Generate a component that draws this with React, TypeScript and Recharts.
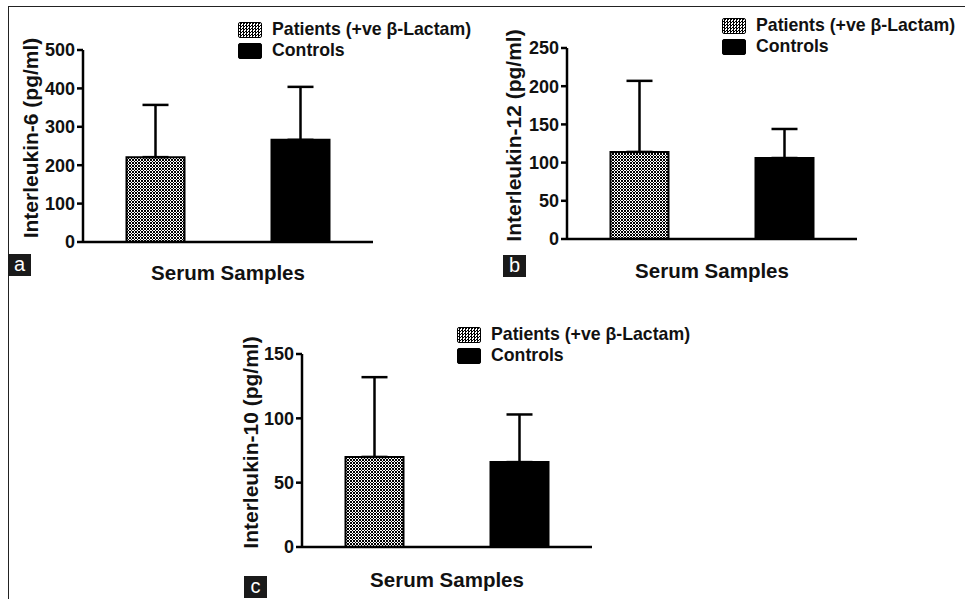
import React from "react";
import {
  BarChart,
  Bar,
  Cell,
  ErrorBar,
  XAxis,
  YAxis,
  Legend,
} from "recharts";

const groups = ["Patients (+ve β-Lactam)", "Controls"];

const il6Mean = [221, 266];
const il6Sd = [136, 138];
const il6Ticks = [0, 100, 200, 300, 400, 500];

const il12Mean = [114, 106];
const il12Sd = [93, 38];
const il12Ticks = [0, 50, 100, 150, 200, 250];

const il10Mean = [70, 66];
const il10Sd = [62, 37];
const il10Ticks = [0, 50, 100, 150];

const FONT = '"Liberation Sans", Arial, Helvetica, sans-serif';
const INK = "#111";

const checker =
  "repeating-conic-gradient(#000 0% 25%, #fff 0% 50%) 0 0 / 3px 3px";

const LegendBox = () => (
  <div style={{ fontFamily: FONT, fontWeight: "bold", fontSize: 17.7, color: INK }}>
    {groups.map((g, i) => (
      <div key={g} style={{ display: "flex", alignItems: "center", height: 21 }}>
        <span
          style={{
            display: "inline-block",
            width: 22,
            height: 14,
            border: "1.5px solid #000",
            borderRadius: 2,
            background: i === 0 ? checker : "#000",
            marginRight: 10,
          }}
        />
        <span style={{ whiteSpace: "nowrap" }}>{g}</span>
      </div>
    ))}
  </div>
);

const YLabel = (props: any) => {
  const { viewBox, value, dx } = props;
  const cx = viewBox.x + dx;
  const cy = viewBox.y + viewBox.height / 2 - 8;
  return (
    <text
      x={cx}
      y={cy}
      transform={`rotate(-90 ${cx} ${cy})`}
      textAnchor="middle"
      dominantBaseline="central"
      fontFamily={FONT}
      fontWeight="bold"
      fontSize={21}
      fill={INK}
    >
      {value}
    </text>
  );
};

interface ChartProps {
  id: string;
  means: number[];
  sds: number[];
  ticks: number[];
  yLabel: string;
  width: number;
  height: number;
  top: number;
  left: number;
  right: number;
  xAxisHeight: number;
  yLabelDx: number;
  xLabelOffset: number;
  legendTop: number;
  legendLeft: number;
}

const SerumChart: React.FC<ChartProps> = (p) => {
  const rows = groups.map((g, i) => ({
    group: g,
    mean: p.means[i],
    err: [0, p.sds[i]],
  }));
  const tickStyle = { fill: INK, fontSize: 18, fontWeight: "bold", fontFamily: FONT };
  return (
    <BarChart
      width={p.width}
      height={p.height}
      data={rows}
      barCategoryGap="30%"
      margin={{ top: p.top, right: p.right, bottom: 0, left: 10 }}
    >
      <defs>
        <pattern id={p.id} width="3" height="3" patternUnits="userSpaceOnUse">
          <rect width="3" height="3" fill="#fff" shapeRendering="crispEdges" />
          <rect width="1.5" height="1.5" fill="#000" shapeRendering="crispEdges" />
          <rect x="1.5" y="1.5" width="1.5" height="1.5" fill="#000" shapeRendering="crispEdges" />
        </pattern>
      </defs>
      <XAxis
        dataKey="group"
        height={p.xAxisHeight}
        tick={false}
        tickSize={7}
        axisLine={{ stroke: "#000", strokeWidth: 2.5 }}
        tickLine={{ stroke: "#000", strokeWidth: 2.5 }}
        label={{
          value: "Serum Samples",
          position: "insideTop",
          offset: p.xLabelOffset,
          fill: INK,
          fontSize: 20.5,
          fontWeight: "bold",
          fontFamily: FONT,
        }}
      />
      <YAxis
        width={p.left - 10}
        domain={[0, p.ticks[p.ticks.length - 1]]}
        ticks={p.ticks}
        interval={0}
        tickSize={6}
        tick={tickStyle}
        axisLine={{ stroke: "#000", strokeWidth: 2.5 }}
        tickLine={{ stroke: "#000", strokeWidth: 2.5 }}
        label={<YLabel value={p.yLabel} dx={p.yLabelDx} />}
      />
      <Legend
        layout="vertical"
        align="center"
        verticalAlign="middle"
        content={<LegendBox />}
        wrapperStyle={{ top: p.legendTop, left: p.legendLeft, width: "auto" }}
      />
      <Bar dataKey="mean" stroke="#000" strokeWidth={2} isAnimationActive={false}>
        {rows.map((r, i) => (
          <Cell key={r.group} fill={i === 0 ? `url(#${p.id})` : "#000"} />
        ))}
        <ErrorBar
          dataKey="err"
          direction="y"
          width={13}
          stroke="#000"
          strokeWidth={2.5}
          isAnimationActive={false}
        />
      </Bar>
    </BarChart>
  );
};

const PanelTag = ({ text, x, y }: { text: string; x: number; y: number }) => (
  <div
    style={{
      position: "absolute",
      left: x,
      top: y,
      width: 23,
      height: 22,
      background: "#1a1a1a",
      color: "#fff",
      fontFamily: FONT,
      fontSize: 20,
      lineHeight: "21px",
      textAlign: "center",
    }}
  >
    {text}
  </div>
);

export default function App() {
  return (
    <div
      style={{
        position: "absolute",
        left: 0,
        top: 0,
        width: 965,
        height: 599,
        overflow: "hidden",
        background: "#fff",
      }}
    >
      <div
        style={{
          position: "absolute",
          left: 8,
          top: 6,
          right: 0,
          bottom: 0,
          borderTop: "1.5px solid #222",
          borderLeft: "1.5px solid #222",
        }}
      />
      <div style={{ position: "absolute", left: 0, top: 0 }}>
        <SerumChart
          id="chkA"
          means={il6Mean}
          sds={il6Sd}
          ticks={il6Ticks}
          yLabel="Interleukin-6 (pg/ml)"
          width={480}
          height={300}
          top={50}
          left={83}
          right={107}
          xAxisHeight={58}
          yLabelDx={20}
          xLabelOffset={23}
          legendTop={19}
          legendLeft={238}
        />
      </div>
      <div style={{ position: "absolute", left: 480, top: 0 }}>
        <SerumChart
          id="chkB"
          means={il12Mean}
          sds={il12Sd}
          ticks={il12Ticks}
          yLabel="Interleukin-12 (pg/ml)"
          width={485}
          height={300}
          top={48}
          left={87}
          right={108}
          xAxisHeight={61}
          yLabelDx={23}
          xLabelOffset={24}
          legendTop={15}
          legendLeft={242}
        />
      </div>
      <div style={{ position: "absolute", left: 200, top: 300 }}>
        <SerumChart
          id="chkC"
          means={il10Mean}
          sds={il10Sd}
          ticks={il10Ticks}
          yLabel="Interleukin-10 (pg/ml)"
          width={520}
          height={299}
          top={54}
          left={102}
          right={128}
          xAxisHeight={52}
          yLabelDx={40}
          xLabelOffset={25}
          legendTop={24}
          legendLeft={257}
        />
      </div>
      <PanelTag text="a" x={8} y={254} />
      <PanelTag text="b" x={503} y={255} />
      <PanelTag text="c" x={244} y={576} />
    </div>
  );
}
